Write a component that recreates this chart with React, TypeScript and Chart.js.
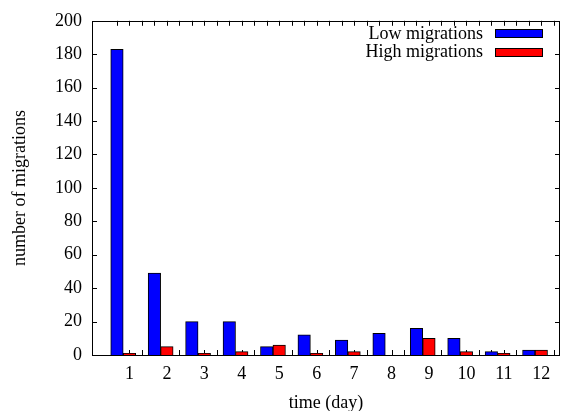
import React, { useEffect, useRef } from "react";
import { Chart, registerables } from "chart.js";

Chart.register(...registerables);

const dayLabels = ["1", "2", "3", "4", "5", "6", "7", "8", "9", "10", "11", "12"];
const lowMigrations = [183, 49, 20, 20, 5, 12, 9, 13, 16, 10, 2, 3];
const highMigrations = [1, 5, 1, 2, 6, 1, 2, 0, 10, 2, 1, 3];
const yTickValues = [0, 20, 40, 60, 80, 100, 120, 140, 160, 180, 200];
const seriesNames = ["Low migrations", "High migrations"];
const seriesColors = ["#0000ff", "#ff0000"];

const FONT_FAMILY = "'Liberation Serif', 'Times New Roman', serif";
const FONT_SIZE = 18;

const framePlugin = {
  id: "gnuFrame",
  beforeDatasetsDraw(chart: any) {
    const { ctx, chartArea, scales } = chart;
    const xs = scales.x;
    const ys = scales.y;
    const len = 5;
    ctx.save();
    ctx.strokeStyle = "#000";
    ctx.lineWidth = 1;
    ctx.beginPath();
    for (let i = 2; i / 3 <= xs.max + 1e-9; i++) {
      const px = Math.round(xs.getPixelForValue(i / 3)) + 0.5;
      ctx.moveTo(px, chartArea.bottom);
      ctx.lineTo(px, chartArea.bottom - len);
      ctx.moveTo(px, chartArea.top);
      ctx.lineTo(px, chartArea.top + len);
    }
    yTickValues.forEach((v) => {
      if (v === ys.min || v === ys.max) return;
      const py = Math.round(ys.getPixelForValue(v)) + 0.5;
      ctx.moveTo(chartArea.left, py);
      ctx.lineTo(chartArea.left + len, py);
      ctx.moveTo(chartArea.right, py);
      ctx.lineTo(chartArea.right - len, py);
    });
    ctx.stroke();
    ctx.restore();
  },
  afterDatasetsDraw(chart: any) {
    const { ctx, chartArea } = chart;
    ctx.save();
    ctx.strokeStyle = "#000";
    ctx.lineWidth = 1;
    ctx.strokeRect(
      Math.round(chartArea.left) + 0.5,
      Math.round(chartArea.top) + 0.5,
      Math.round(chartArea.right - chartArea.left) - 1,
      Math.round(chartArea.bottom - chartArea.top)
    );
    ctx.font = `${FONT_SIZE}px ${FONT_FAMILY}`;
    ctx.textAlign = "right";
    ctx.textBaseline = "middle";
    const boxRight = chartArea.right - 17;
    const boxW = 48;
    const boxH = 9;
    chart.data.datasets.forEach((ds: any, i: number) => {
      const cy = chartArea.top + 13 + i * 18.5;
      ctx.fillStyle = "#000";
      ctx.fillText(ds.label, boxRight - boxW - 12, cy);
      ctx.fillStyle = ds.backgroundColor;
      ctx.fillRect(boxRight - boxW, Math.round(cy - boxH / 2), boxW, boxH);
      ctx.strokeRect(boxRight - boxW + 0.5, Math.round(cy - boxH / 2) + 0.5, boxW - 1, boxH - 1);
    });
    ctx.restore();
  },
};

export default function App() {
  const canvasRef = useRef<HTMLCanvasElement | null>(null);

  useEffect(() => {
    const canvas = canvasRef.current;
    if (!canvas) return;
    const font = { family: FONT_FAMILY, size: FONT_SIZE };
    const chart = new Chart(canvas, {
      type: "bar",
      data: {
        datasets: [
          {
            label: seriesNames[0],
            data: lowMigrations.map((v, i) => ({ x: i + 1 - 1 / 3, y: v })),
            backgroundColor: seriesColors[0],
            borderColor: "#000",
            borderWidth: 1,
            grouped: false,
            barPercentage: 1,
            categoryPercentage: 1,
          },
          {
            label: seriesNames[1],
            data: highMigrations.map((v, i) => ({ x: i + 1, y: v })),
            backgroundColor: seriesColors[1],
            borderColor: "#000",
            borderWidth: 1,
            grouped: false,
            barPercentage: 1,
            categoryPercentage: 1,
          },
        ] as any,
      },
      options: {
        animation: false,
        responsive: false,
        devicePixelRatio: 1,
        layout: { padding: { top: 19, right: 3, left: 0, bottom: 0 } },
        plugins: {
          legend: { display: false },
          tooltip: { enabled: false },
        },
        scales: {
          x: {
            type: "linear",
            min: 0,
            max: 12.5,
            offset: false,
            grid: { display: false, drawTicks: false },
            border: { display: false },
            afterBuildTicks: (s: any) => {
              s.ticks = dayLabels.map((_, i) => ({ value: i + 1 }));
            },
            afterFit: (s: any) => {
              s.height = 56;
            },
            ticks: {
              autoSkip: false,
              maxRotation: 0,
              color: "#000",
              font,
              padding: 8,
              callback: (_v: any, i: number) => dayLabels[i],
            },
            title: {
              display: true,
              text: "time (day)",
              color: "#000",
              font,
              padding: { top: 0, bottom: -3 },
            },
          },
          y: {
            min: 0,
            max: 200,
            grid: { display: false, drawTicks: false },
            border: { display: false },
            afterBuildTicks: (s: any) => {
              s.ticks = yTickValues.map((v) => ({ value: v }));
            },
            afterFit: (s: any) => {
              s.width = 92;
            },
            ticks: {
              color: "#000",
              font,
              padding: 10,
            },
            title: {
              display: true,
              text: "number of migrations",
              color: "#000",
              font,
              padding: { top: 9, bottom: 0 },
            },
          },
        },
      },
      plugins: [framePlugin],
    } as any);
    return () => chart.destroy();
  }, []);

  return (
    <div style={{ position: "absolute", left: 0, top: 0, width: 563, height: 411, background: "#fff" }}>
      <canvas ref={canvasRef} width={563} height={411} style={{ display: "block" }} />
    </div>
  );
}
